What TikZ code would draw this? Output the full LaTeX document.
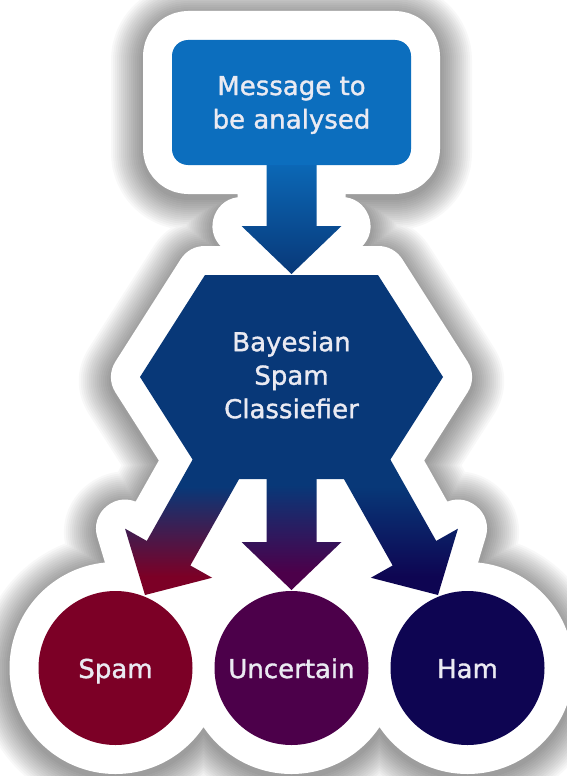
\documentclass[tikz,border=0pt]{standalone}
\usepackage{fontspec}
\setmainfont{DejaVu Sans}[BoldFont={DejaVu Sans}, BoldFeatures={FakeBold=1.3}]
\definecolor{boxc}{RGB}{12,110,190}
\definecolor{hexc}{RGB}{8,56,120}
\definecolor{spamc}{RGB}{124,0,38}
\definecolor{uncc}{RGB}{76,0,74}
\definecolor{hamc}{RGB}{14,5,82}
\definecolor{txtc}{RGB}{234,234,242}
% vertical fades for the three output arrows (path box maps to 25bp..75bp)
\pgfdeclareverticalshading{tospam}{100bp}{color(0bp)=(spamc); color(31bp)=(spamc); color(60bp)=(hexc); color(100bp)=(hexc)}
\pgfdeclareverticalshading{tounc}{100bp}{color(0bp)=(uncc); color(31bp)=(uncc); color(60bp)=(hexc); color(100bp)=(hexc)}
\pgfdeclareverticalshading{toham}{100bp}{color(0bp)=(hamc); color(31bp)=(hamc); color(60bp)=(hexc); color(100bp)=(hexc)}
% arrow outlines
\newcommand\toparrow{(266.5,150) -- (316.5,150) -- (316.5,226) -- (341.5,226) -- (291.5,274) -- (241.5,226) -- (266.5,226) -- cycle}
\newcommand\midarrow{(266.5,440) -- (316.5,440) -- (316.5,542) -- (341.5,542) -- (291.5,590) -- (241.5,542) -- (266.5,542) -- cycle}
\newcommand\leftarrowshape{(203.65,440) -- (247.2,464.6) -- (190.35,565.47) -- (212.12,577.74) -- (145,595) -- (125.02,528.64) -- (146.8,540.92) -- cycle}
\newcommand\rightarrowshape{(379.35,440) -- (335.8,464.6) -- (392.65,565.47) -- (370.88,577.74) -- (438,595) -- (457.98,528.64) -- (436.2,540.92) -- cycle}
\newcommand\hexshape{(140,377) -- (205,275) -- (378,275) -- (443,377) -- (378,479) -- (205,479) -- cycle}
% the whole sticker silhouette
\newcommand\stickershape{{[rounded corners=16pt] (172,40) rectangle (411,165)}
  \toparrow \hexshape \midarrow \leftarrowshape \rightarrowshape
  (115.5,668) circle[radius=77] (291.5,668) circle[radius=77] (467.5,668) circle[radius=77]}
\begin{document}
\begin{tikzpicture}[x=1pt,y=-1pt,
    lbl/.style={text=txtc, align=center, inner sep=0pt,
      font=\fontsize{26}{33.5}\selectfont\bfseries}]
  \fill[white] (0,0) rectangle (567,776);
  \useasboundingbox (0,0) rectangle (567,776);
  % soft shadow around the sticker
  \foreach \w in {2,4,...,32}{
    \draw[black, opacity=0.026, line width={58+2*\w}, line join=round, yshift=-4pt] \stickershape;
  }
  % white sticker border
  \draw[white, fill=white, line width=58, line join=round] \stickershape;
  % arrows
  \shade[top color=boxc, bottom color=hexc] \toparrow;
  \shade[shading=tospam] \leftarrowshape;
  \shade[shading=tounc] \midarrow;
  \shade[shading=toham] \rightarrowshape;
  % shapes
  \fill[boxc, rounded corners=16pt] (172,40) rectangle (411,165);
  \fill[hexc] \hexshape;
  \fill[spamc] (115.5,668) circle[radius=77];
  \fill[uncc] (291.5,668) circle[radius=77];
  \fill[hamc] (467.5,668) circle[radius=77];
  % labels
  \node[lbl] (msg) at (291.5,105) {Message to\\be analysed};
  \node[lbl] (bsc) at (291.5,375) {Bayesian\\Spam\\Classiefier};
  \node[lbl, anchor=base] (spam) at (115.5,678) {Spam};
  \node[lbl, anchor=base] (unc) at (291.5,678) {Uncertain};
  \node[lbl, anchor=base] (ham) at (467.5,678) {Ham};
\end{tikzpicture}
\end{document}
